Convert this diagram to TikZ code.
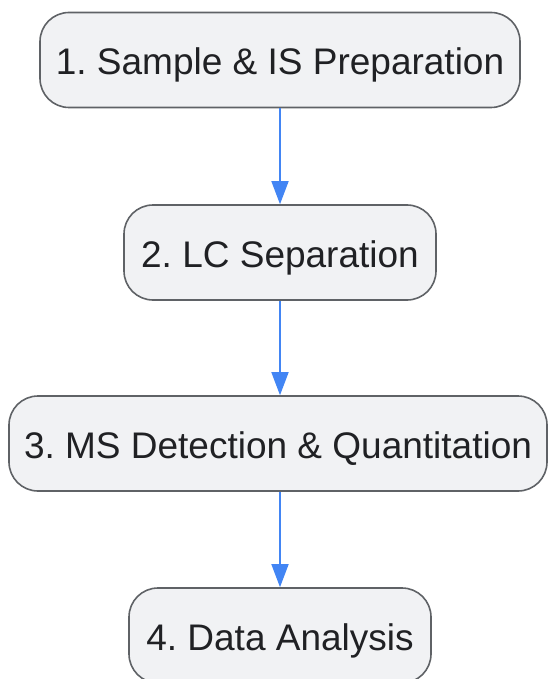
\documentclass[tikz,border=0pt]{standalone}
\usepackage{fontspec}
\setmainfont{Liberation Sans}
\usetikzlibrary{arrows.meta}

\definecolor{boxfill}{HTML}{F1F2F4}
\definecolor{boxline}{HTML}{5F6266}
\definecolor{flowblue}{HTML}{4285F4}
\definecolor{labeltext}{HTML}{202124}

\frenchspacing

\begin{document}
\begin{tikzpicture}
    [x=1pt, y=-1pt,
     every node/.style={font=\fontsize{37}{42}\selectfont, text=labeltext},
     stepbox/.style={draw=boxline, line width=1.6pt, fill=boxfill,
                     rounded corners=29pt, inner sep=0pt, minimum height=95pt,
                     text height=30pt, text depth=0pt},
     flow/.style={draw=flowblue, line width=1.6pt,
                  -{Triangle[width=17pt, length=23pt]}}]

    \useasboundingbox (0,0) rectangle (547,679);

    \node[stepbox, minimum width=480pt] (prep)  at (280,60)    {1. Sample \& IS Preparation};
    \node[stepbox, minimum width=312pt] (lc)    at (280,252.5) {2. LC Separation};
    \node[stepbox, minimum width=538pt] (ms)    at (278,443.5) {3. MS Detection \& Quantitation};
    \node[stepbox, minimum width=302pt] (data)  at (280,635.5) {4. Data Analysis};

    \draw[flow] (prep) -- (lc);
    \draw[flow] (lc) -- (ms.north -| lc);
    \draw[flow] (ms.south -| data) -- (data);
  \end{tikzpicture}
\end{document}
